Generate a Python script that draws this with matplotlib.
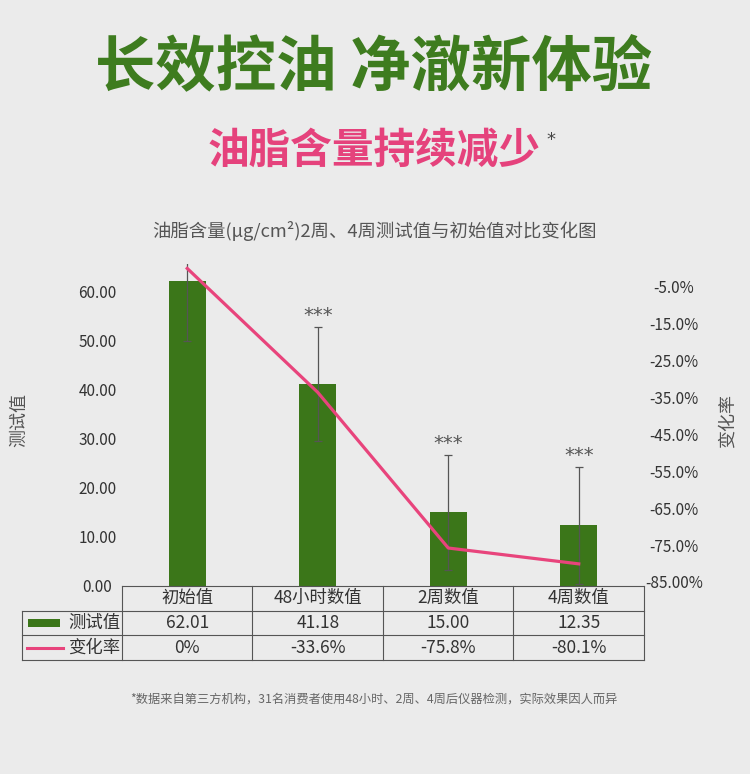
import numpy as np
import matplotlib.pyplot as plt
from matplotlib.patches import Rectangle

plt.rcParams['font.family'] = ['Noto Sans CJK SC', 'DejaVu Sans']

# data
categories = ['初始值', '48小时数值', '2周数值', '4周数值']
test_values = [62.01, 41.18, 15.00, 12.35]
test_errors = [12.2, 11.6, 11.7, 11.9]
change_rates = [0.0, -33.6, -75.8, -80.1]
value_labels = ['62.01', '41.18', '15.00', '12.35']
change_labels = ['0%', '-33.6%', '-75.8%', '-80.1%']
significance = ['', '***', '***', '***']
left_ticks = [0, 10, 20, 30, 40, 50, 60]
right_ticks = [-85, -75, -65, -55, -45, -35, -25, -15, -5]
right_tick_labels = ['-85.00%', '-75.0%', '-65.0%', '-55.0%', '-45.0%',
                     '-35.0%', '-25.0%', '-15.0%', '-5.0%']
row_names = ['测试值', '变化率']

BG = '#ebebeb'
GREEN = '#3b7619'
PINK = '#e8447c'
GRAY = '#555555'
TXT = '#333333'

W, H = 750, 774
fig = plt.figure(figsize=(W / 100, H / 100), dpi=100, facecolor=BG)

fig.text(374 / W, 1 - 67 / H, '长效控油 净澈新体验', ha='center', va='center',
         fontsize=43.5, fontweight='bold', color='#3e7c1f')
fig.text(374 / W, 1 - 151 / H, '油脂含量持续减少', ha='center', va='center',
         fontsize=30, fontweight='bold', color='#e5427c')
fig.text(551 / W, 1 - 140 / H, '*', ha='center', va='center',
         fontsize=13, color='#444444', family='DejaVu Sans')
fig.text(374 / W, 1 - 231 / H, '油脂含量(μg/cm²)2周、4周测试值与初始值对比变化图',
         ha='center', va='center', fontsize=13.2, color=GRAY)
fig.text(374 / W, 1 - 700 / H,
         '*数据来自第三方机构，31名消费者使用48小时、2周、4周后仪器检测，实际效果因人而异',
         ha='center', va='center', fontsize=8.8, color='#666666')
fig.text(19 / W, 1 - 420 / H, '测试值', rotation=90, ha='center', va='center',
         fontsize=13, color=GRAY)
fig.text(728 / W, 1 - 421 / H, '变化率', rotation=90, ha='center', va='center',
         fontsize=13, color=GRAY)

ax = fig.add_axes([122 / W, 1 - 586 / H, 522 / W, 322 / H])
ax.set_facecolor('none')
x = np.arange(len(categories))
ax.bar(x, test_values, width=0.28, color=GREEN, zorder=2)
ax.errorbar(x, test_values, yerr=test_errors, fmt='none', ecolor=GRAY,
            elinewidth=0.9, capsize=3, capthick=0.9, zorder=3)
for xi, v, e, s in zip(x, test_values, test_errors, significance):
    if s:
        ax.text(xi, v + e + 0.3, s, ha='center', va='bottom', fontsize=14,
                color=GRAY, family='DejaVu Sans')
ax.set_xlim(-0.5, 3.5)
ax.set_ylim(0, 65.5)
ax.set_xticks([])
ax.set_yticks(left_ticks)
ax.set_yticklabels([f'{t:.2f}' for t in left_ticks])
ax.tick_params(axis='y', length=0, pad=17.6, labelsize=11, labelcolor=TXT)
for lab in ax.get_yticklabels():
    lab.set_ha('center')
for sp in ax.spines.values():
    sp.set_visible(False)

ax2 = ax.twinx()
ax2.plot(x, change_rates, color=PINK, lw=2.3, zorder=4)
ax2.set_ylim(-86.1, 1.2)
ax2.set_yticks(right_ticks)
ax2.set_yticklabels(right_tick_labels)
ax2.tick_params(axis='y', length=0, pad=21.6, labelsize=11, labelcolor=TXT)
for lab in ax2.get_yticklabels():
    lab.set_ha('center')
for sp in ax2.spines.values():
    sp.set_visible(False)

# data table under the plot: x in data units, y in axes fraction
tr = ax.get_xaxis_transform()
rh = 24.7 / 322
left_edge = -0.5 - 100 / 130.5
line_kw = dict(color=GRAY, lw=0.8, transform=tr, clip_on=False)
ax.plot([-0.5, 3.5], [0, 0], **line_kw)
for k in range(1, 4):
    ax.plot([left_edge, 3.5], [-k * rh, -k * rh], **line_kw)
ax.plot([left_edge, left_edge], [-rh, -3 * rh], **line_kw)
for b in np.arange(-0.5, 4.0, 1.0):
    ax.plot([b, b], [0, -3 * rh], **line_kw)

cell_kw = dict(ha='center', va='center', fontsize=12.5, color=TXT,
               transform=tr, clip_on=False)
for xi, c, v, r in zip(x, categories, value_labels, change_labels):
    ax.text(xi, -0.5 * rh, c, **cell_kw)
    ax.text(xi, -1.5 * rh, v, **cell_kw)
    ax.text(xi, -2.5 * rh, r, **cell_kw)
for k, name in enumerate(row_names):
    ax.text(-0.515, -(1.5 + k) * rh, name, ha='right', va='center',
            fontsize=12.5, color=TXT, transform=tr, clip_on=False)
ax.add_patch(Rectangle((-0.5 - 94 / 130.5, -1.5 * rh - 4 / 322), 32 / 130.5, 8 / 322,
                       facecolor=GREEN, edgecolor='none', transform=tr, clip_on=False))
ax.plot([-0.5 - 95 / 130.5, -0.5 - 59 / 130.5], [-2.5 * rh, -2.5 * rh],
        color=PINK, lw=2.2, transform=tr, clip_on=False)

fig.savefig('out.png', dpi=100, facecolor=BG)
